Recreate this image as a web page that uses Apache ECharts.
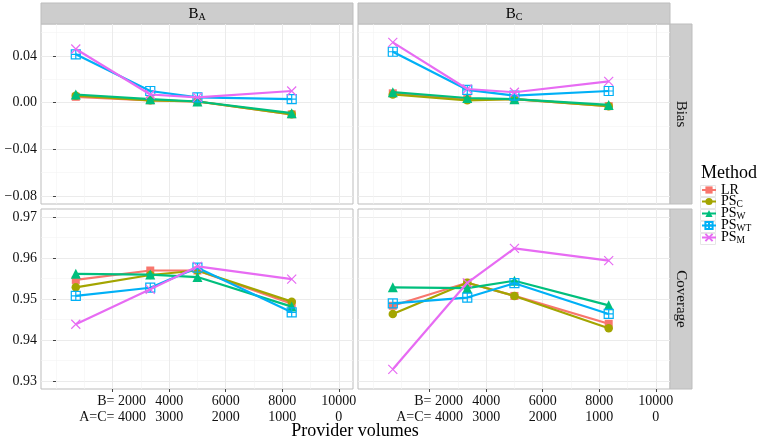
<!DOCTYPE html>
<html><head><meta charset="utf-8">
<script src="https://cdn.jsdelivr.net/npm/echarts@6/dist/echarts.min.js"></script>
<style>html,body{margin:0;padding:0;background:#fff}#c{width:763px;height:441px}</style>
</head><body><div id="c"></div>
<script>
// ---------------- data ----------------
const xVals = [700, 3333, 5000, 8333];           // provider volume B at each design point
const methods = ['LR', 'PSC', 'PSW', 'PSWT', 'PSM'];
const xTickB = [2000, 4000, 6000, 8000, 10000];
const xTickAC = [4000, 3000, 2000, 1000, 0];
const biasTicks = [-0.08, -0.04, 0, 0.04];
const covTicks = [0.93, 0.94, 0.95, 0.96, 0.97];

// Bias, facet B_A
const biasA_LR   = [0.005, 0.002, 0.001, -0.010];
const biasA_PSC  = [0.006, 0.002, 0.001, -0.010];
const biasA_PSW  = [0.007, 0.003, 0.001, -0.009];
const biasA_PSWT = [0.0415, 0.010, 0.0045, 0.003];
const biasA_PSM  = [0.046, 0.007, 0.0045, 0.010];
// Bias, facet B_C
const biasC_LR   = [0.008, 0.003, 0.003, -0.003];
const biasC_PSC  = [0.007, 0.002, 0.003, -0.003];
const biasC_PSW  = [0.009, 0.004, 0.003, -0.002];
const biasC_PSWT = [0.0437, 0.011, 0.006, 0.010];
const biasC_PSM  = [0.0517, 0.0117, 0.0089, 0.0183];
// Coverage, facet B_A
const covA_LR   = [0.9547, 0.9570, 0.9570, 0.9489];
const covA_PSC  = [0.9529, 0.9559, 0.9570, 0.9494];
const covA_PSW  = [0.9562, 0.9560, 0.9554, 0.9482];
const covA_PSWT = [0.9508, 0.9528, 0.9577, 0.9468];
const covA_PSM  = [0.9439, 0.9524, 0.9580, 0.9549];
// Coverage, facet B_C
const covC_LR   = [0.9484, 0.9540, 0.9508, 0.9440];
const covC_PSC  = [0.9464, 0.9540, 0.9508, 0.9429];
const covC_PSW  = [0.9529, 0.9527, 0.9545, 0.9485];
const covC_PSWT = [0.9490, 0.9504, 0.9539, 0.9464];
const covC_PSM  = [0.9329, 0.9540, 0.9624, 0.9594];

const panelData = [
  [biasA_LR, biasA_PSC, biasA_PSW, biasA_PSWT, biasA_PSM],
  [biasC_LR, biasC_PSC, biasC_PSW, biasC_PSWT, biasC_PSM],
  [covA_LR, covA_PSC, covA_PSW, covA_PSWT, covA_PSM],
  [covC_LR, covC_PSC, covC_PSW, covC_PSWT, covC_PSM]
];

// ---------------- styling ----------------
const FONT = '"Liberation Serif","DejaVu Serif",serif';
const colors = {LR:'#F8766D', PSC:'#A3A500', PSW:'#00BF7D', PSWT:'#00B0F6', PSM:'#E76BF3'};
const symbols = {
  LR: ['rect', 8], PSC: ['circle', 8.5], PSW: ['triangle', 10],
  PSWT: ['path://M0 0H10V10H0Z M5 0V10 M0 5H10', 9],
  PSM: ['path://M0 0L10 10M10 0L0 10', 9]
};
const legendRich = {
  n: {fontFamily: FONT, fontSize: 14, color: '#000', lineHeight: 12},
  s: {fontFamily: FONT, fontSize: 9.5, color: '#000', lineHeight: 12, padding: [5, 0, 0, 0]}
};
const legendLabel = {LR:'{n|LR}', PSC:'{n|PS}{s|C}', PSW:'{n|PS}{s|W}', PSWT:'{n|PS}{s|WT}', PSM:'{n|PS}{s|M}'};

const grids = [
  {left: 41, top: 24, width: 312, height: 180},
  {left: 358, top: 24, width: 312, height: 180},
  {left: 41, top: 209, width: 312, height: 180},
  {left: 358, top: 209, width: 312, height: 180}
];
const xMin = -530, xMax = 10500;
const yRanges = [[-0.087, 0.0675], [-0.087, 0.0675], [0.9281, 0.9720], [0.9281, 0.9720]];
const yMinor = [[-0.06, -0.02, 0.02, 0.06], [-0.06, -0.02, 0.02, 0.06],
                [0.935, 0.945, 0.955, 0.965], [0.935, 0.945, 0.955, 0.965]];
const xMinor = [0, 1000, 3000, 5000, 7000, 9000];

const xAxes = [], yAxes = [], series = [];
grids.forEach((g, gi) => {
  const bottom = gi >= 2, left = gi % 2 === 0;
  xAxes.push({
    type: 'value', gridIndex: gi, min: xMin, max: xMax, position: 'top',
    axisLine: {show: false}, axisLabel: {show: false},
    axisTick: {show: false, customValues: xMinor},
    splitLine: {show: true, lineStyle: {color: '#F3F3F3', width: 0.6}}
  });
  xAxes.push({
    type: 'value', gridIndex: gi, min: xMin, max: xMax, position: 'bottom',
    axisLine: {show: false},
    axisTick: {show: bottom, customValues: xTickB, length: 3, lineStyle: {color: '#444'}},
    axisLabel: {
      show: bottom, customValues: xTickB, margin: 4,
      fontFamily: FONT, fontSize: 14, color: '#111', lineHeight: 16,
      formatter: v => {
        const i = xTickB.indexOf(v);
        if (i < 0) return '';
        if (i === 0) return '{r|B= ' + v + '}\n{r|A=C= ' + xTickAC[i] + '}';
        return v + '\n' + xTickAC[i];
      },
      rich: {r: {align: 'right', fontFamily: FONT, fontSize: 14, color: '#111', lineHeight: 16}}
    },
    splitLine: {show: true, lineStyle: {color: '#EBEBEB', width: 1}}
  });
  const yTicks = gi < 2 ? biasTicks : covTicks;
  yAxes.push({
    type: 'value', gridIndex: gi, min: yRanges[gi][0], max: yRanges[gi][1], position: 'right',
    axisLine: {show: false}, axisLabel: {show: false},
    axisTick: {show: false, customValues: yMinor[gi]},
    splitLine: {show: true, lineStyle: {color: '#F3F3F3', width: 0.6}}
  });
  yAxes.push({
    type: 'value', gridIndex: gi, min: yRanges[gi][0], max: yRanges[gi][1], position: 'left',
    axisLine: {show: false},
    axisTick: {show: left, customValues: yTicks, length: 3, lineStyle: {color: '#444'}},
    axisLabel: {
      show: left, customValues: yTicks, margin: 4,
      fontFamily: FONT, fontSize: 14, color: '#111',
      formatter: v => v.toFixed(2).replace('-', '\u2212')
    },
    splitLine: {show: true, lineStyle: {color: '#EBEBEB', width: 1}}
  });
  methods.forEach((m, mi) => {
    const c = colors[m];
    const hollow = (m === 'PSWT' || m === 'PSM');
    series.push({
      name: m, type: 'line', xAxisIndex: 2 * gi + 1, yAxisIndex: 2 * gi + 1,
      data: xVals.map((x, k) => [x, panelData[gi][mi][k]]),
      symbol: symbols[m][0], symbolSize: symbols[m][1], showSymbol: true,
      lineStyle: {color: c, width: 2.2},
      itemStyle: hollow ? {color: 'rgba(255,255,255,0)', borderColor: c, borderWidth: 1.2} : {color: c},
      emphasis: {disabled: true}, silent: true, z: 2 + mi
    });
  });
});

const stripFill = '#CDCDCD', stripStroke = '#BDBDBD';
const stripRich = {
  b: {fontFamily: FONT, fontSize: 15, color: '#111'},
  s: {fontFamily: FONT, fontSize: 10, color: '#111', padding: [6, 0, 0, 0]}
};
const keyBoxes = [0, 1, 2, 3, 4].map(i => ({
  type: 'rect', z: -1, shape: {x: 700.5, y: 185.5 + i * 12, width: 15, height: 11},
  style: {fill: '#fff', stroke: '#E6E6E6', lineWidth: 1}
}));
const graphic = [
  {type: 'rect', shape: {x: 41, y: 3, width: 312, height: 21}, style: {fill: stripFill, stroke: stripStroke, lineWidth: 1}},
  {type: 'rect', shape: {x: 358, y: 3, width: 312, height: 21}, style: {fill: stripFill, stroke: stripStroke, lineWidth: 1}},
  {type: 'rect', shape: {x: 670, y: 24, width: 22, height: 180}, style: {fill: stripFill, stroke: stripStroke, lineWidth: 1}},
  {type: 'rect', shape: {x: 670, y: 209, width: 22, height: 180}, style: {fill: stripFill, stroke: stripStroke, lineWidth: 1}},
  {type: 'text', x: 197, y: 14, style: {text: '{b|B}{s|A}', rich: stripRich, align: 'center', verticalAlign: 'middle'}},
  {type: 'text', x: 514, y: 14, style: {text: '{b|B}{s|C}', rich: stripRich, align: 'center', verticalAlign: 'middle'}},
  {type: 'text', x: 681, y: 114, rotation: -Math.PI / 2, style: {text: 'Bias', font: '15px ' + FONT, fill: '#111', align: 'center', verticalAlign: 'middle'}},
  {type: 'text', x: 681, y: 299, rotation: -Math.PI / 2, style: {text: 'Coverage', font: '15px ' + FONT, fill: '#111', align: 'center', verticalAlign: 'middle'}},
  {type: 'text', x: 355, y: 431, style: {text: 'Provider volumes', font: '18px ' + FONT, fill: '#000', align: 'center', verticalAlign: 'middle'}},
  {type: 'text', x: 701, y: 173, style: {text: 'Method', font: '18px ' + FONT, fill: '#000', align: 'left', verticalAlign: 'middle'}}
].concat(keyBoxes);

const chart = echarts.init(document.getElementById('c'), null, {renderer: 'canvas'});
chart.setOption({
  animation: false,
  backgroundColor: '#fff',
  grid: grids.map(g => Object.assign({show: true, borderColor: '#BDBDBD', borderWidth: 1, backgroundColor: '#fff'}, g)),
  xAxis: xAxes,
  yAxis: yAxes,
  legend: {
    data: methods, orient: 'vertical', left: 701, top: 183, padding: 0,
    itemWidth: 14, itemHeight: 9, itemGap: -3, selectedMode: false,
    textStyle: {fontFamily: FONT, fontSize: 14, color: '#000', lineHeight: 12, rich: legendRich},
    formatter: name => legendLabel[name]
  },
  graphic: graphic,
  series: series
});
</script>
</body></html>
